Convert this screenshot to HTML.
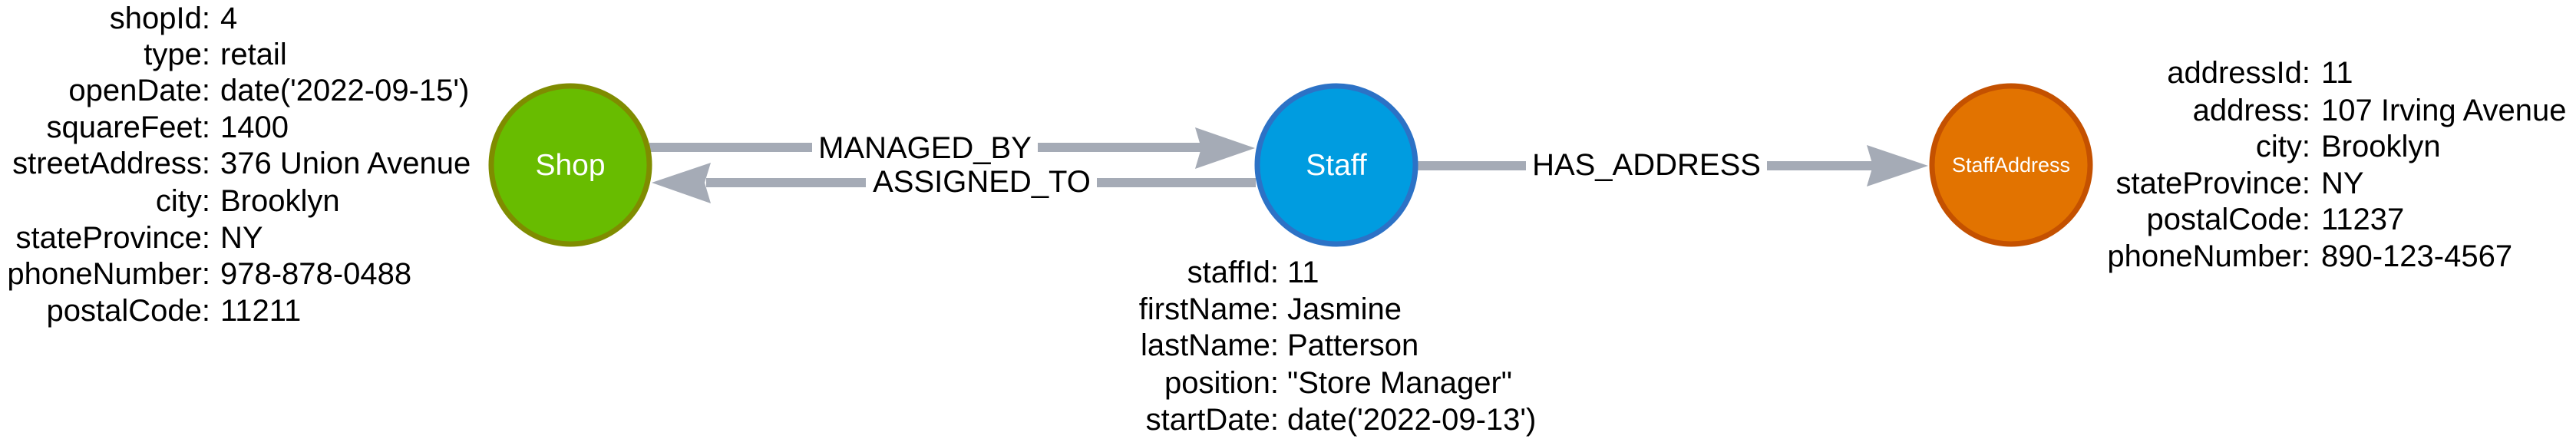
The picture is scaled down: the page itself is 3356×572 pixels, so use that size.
<!DOCTYPE html>
<html><head><meta charset="utf-8"><style>
html,body{margin:0;padding:0;background:#fff;}
svg{display:block;}
text{font-family:"Liberation Sans",Arial,sans-serif;}
</style></head><body>
<svg width="3356" height="572" viewBox="0 0 3356 572" xmlns="http://www.w3.org/2000/svg">
<g stroke="#a5abb6" stroke-width="12" fill="none">
  <line x1="846" y1="192" x2="1058" y2="192"/>
  <line x1="1352" y1="192" x2="1565" y2="192"/>
  <line x1="920" y1="238" x2="1128" y2="238"/>
  <line x1="1429" y1="238" x2="1636" y2="238"/>
  <line x1="1846" y1="216" x2="1988" y2="216"/>
  <line x1="2302" y1="216" x2="2440" y2="216"/>
</g>
<g fill="#a5abb6">
  <polygon points="1635,193 1557,166 1565,193 1557,220"/>
  <polygon points="849,238 926,212 918,238 926,265"/>
  <polygon points="2512,216 2432,189 2440,216 2432,243"/>
</g>
<g font-size="40" fill="#000" text-anchor="middle">
  <text x="1205" y="206">MANAGED_BY</text>
  <text x="1279" y="250">ASSIGNED_TO</text>
  <text x="2145" y="228">HAS_ADDRESS</text>
</g>
<circle cx="743" cy="215" r="103" fill="#68bc00" stroke="#7f8c00" stroke-width="7"/>
<circle cx="1741" cy="215" r="103" fill="#009ce0" stroke="#2c72c6" stroke-width="7"/>
<circle cx="2620" cy="215" r="103" fill="#e27300" stroke="#c45100" stroke-width="7"/>
<g fill="#fff" text-anchor="middle">
  <text x="743" y="228" font-size="39">Shop</text>
  <text x="1741" y="228" font-size="39">Staff</text>
  <text x="2620" y="224" font-size="27">StaffAddress</text>
</g>
<g font-size="40" fill="#000">
  <g text-anchor="end">
    <text x="274" y="37">shopId:</text>
    <text x="274" y="84">type:</text>
    <text x="274" y="131">openDate:</text>
    <text x="274" y="179">squareFeet:</text>
    <text x="274" y="226">streetAddress:</text>
    <text x="274" y="275">city:</text>
    <text x="274" y="323">stateProvince:</text>
    <text x="274" y="370">phoneNumber:</text>
    <text x="274" y="418">postalCode:</text>
  </g>
  <g>
    <text x="287" y="37">4</text>
    <text x="287" y="84">retail</text>
    <text x="287" y="131">date('2022-09-15')</text>
    <text x="287" y="179">1400</text>
    <text x="287" y="226">376 Union Avenue</text>
    <text x="287" y="275">Brooklyn</text>
    <text x="287" y="323">NY</text>
    <text x="287" y="370">978-878-0488</text>
    <text x="287" y="418">11211</text>
  </g>
  <g text-anchor="end">
    <text x="1666" y="368">staffId:</text>
    <text x="1666" y="416">firstName:</text>
    <text x="1666" y="463">lastName:</text>
    <text x="1666" y="512">position:</text>
    <text x="1666" y="560">startDate:</text>
  </g>
  <g>
    <text x="1677" y="368">11</text>
    <text x="1677" y="416">Jasmine</text>
    <text x="1677" y="463">Patterson</text>
    <text x="1677" y="512">"Store Manager"</text>
    <text x="1677" y="560">date('2022-09-13')</text>
  </g>
  <g text-anchor="end">
    <text x="3010" y="108">addressId:</text>
    <text x="3010" y="157">address:</text>
    <text x="3010" y="204">city:</text>
    <text x="3010" y="252">stateProvince:</text>
    <text x="3010" y="299">postalCode:</text>
    <text x="3010" y="347">phoneNumber:</text>
  </g>
  <g>
    <text x="3024" y="108">11</text>
    <text x="3024" y="157">107 Irving Avenue</text>
    <text x="3024" y="204">Brooklyn</text>
    <text x="3024" y="252">NY</text>
    <text x="3024" y="299">11237</text>
    <text x="3024" y="347">890-123-4567</text>
  </g>
</g>
</svg>
</body></html>
